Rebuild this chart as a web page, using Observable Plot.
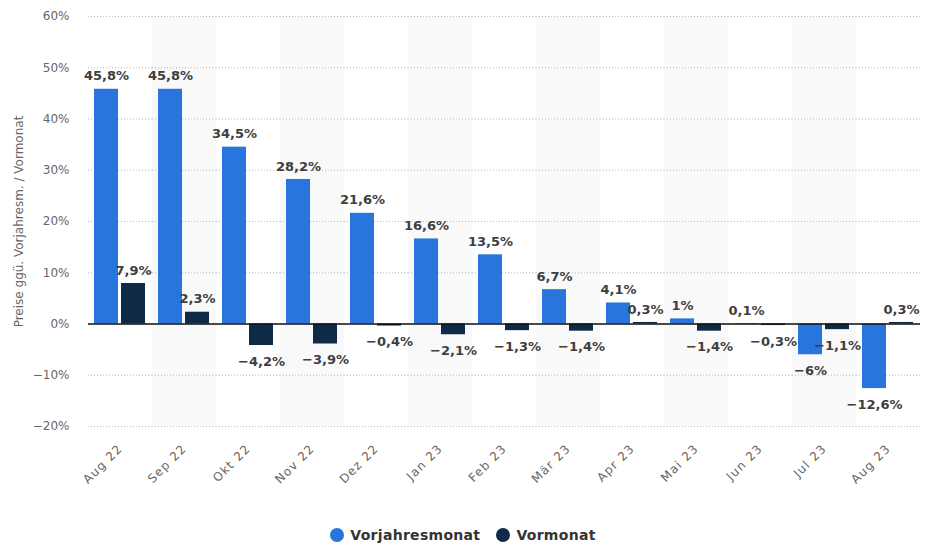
<!DOCTYPE html>
<html>
<head>
<meta charset="utf-8">
<script src="https://cdn.jsdelivr.net/npm/d3@7"></script>
<script src="https://cdn.jsdelivr.net/npm/@observablehq/plot@0.6"></script>
<style>
  body { margin: 0; background: #fff; font-family: "DejaVu Sans", sans-serif; }
  #wrap { position: relative; width: 926px; height: 545px; }
  #legend { position: absolute; top: 527px; left: 0; width: 926px; display: flex; justify-content: center; gap: 16px; font-size: 14px; letter-spacing: 0.3px; font-weight: bold; color: #333; }
  #legend span.item { display: flex; align-items: center; gap: 6px; }
  #legend span.dot { width: 14px; height: 14px; border-radius: 50%; display: inline-block; }
</style>
</head>
<body>
<div id="wrap">
  <div id="chart"></div>
  <div id="legend"></div>
</div>
<script>
const months = ["Aug 22", "Sep 22", "Okt 22", "Nov 22", "Dez 22", "Jan 23", "Feb 23", "Mär 23", "Apr 23", "Mai 23", "Jun 23", "Jul 23", "Aug 23"];
const seriesNames = ["Vorjahresmonat", "Vormonat"];
const vorjahresmonat = [45.8, 45.8, 34.5, 28.2, 21.6, 16.6, 13.5, 6.7, 4.1, 1, 0.1, -6, -12.6];
const vormonat = [7.9, 2.3, -4.2, -3.9, -0.4, -2.1, -1.3, -1.4, 0.3, -1.4, -0.3, -1.1, 0.3];
const yTicks = [-20, -10, 0, 10, 20, 30, 40, 50, 60];
const colors = ["#2876dd", "#0f2a47"];

const data = months.flatMap((m, i) => [
  {month: m, series: seriesNames[0], value: vorjahresmonat[i]},
  {month: m, series: seriesNames[1], value: vormonat[i]}
]);
const shaded = months.filter((m, i) => i % 2 === 1);
const fmt = v => (v < 0 ? "\u2212" : "") + Math.abs(v).toLocaleString("de-DE", {maximumFractionDigits: 1}) + "%";

const chart = Plot.plot({
  width: 926,
  height: 505,
  marginTop: 16,
  marginBottom: 79,
  marginLeft: 87,
  marginRight: 5,
  style: {fontFamily: "'DejaVu Sans', sans-serif", background: "#fff"},
  fx: {domain: months, padding: 0, axis: null},
  x: {domain: seriesNames, paddingInner: 0.11, paddingOuter: 0.24, axis: null},
  y: {domain: [-20, 60], axis: null},
  color: {domain: seriesNames, range: colors},
  marks: [
    Plot.barY(shaded, {fx: d => d, y1: () => -20, y2: () => 60, fill: "#f9f9f9"}),
    Plot.gridY(yTicks, {stroke: "#bbb", strokeOpacity: 1, strokeDasharray: "1,2"}),
    Plot.axisY(yTicks, {
      anchor: "left",
      tickSize: 0, tickPadding: 19, fontSize: 12, color: "#666",
      tickFormat: d => (d < 0 ? "\u2212" : "") + Math.abs(d) + "%",
      label: "Preise ggü. Vorjahresm. / Vormonat", labelAnchor: "center", labelArrow: "none", labelOffset: 74
    }),
    Plot.axisFx({anchor: "bottom", tickRotate: -45, tickSize: 0, tickPadding: 20, fontSize: 12, color: "#666", label: null}),
    Plot.barY(data, {fx: "month", x: "series", y: "value", fill: "series"}),
    Plot.ruleY([0], {stroke: "#111", strokeWidth: 1.5}),
    Plot.text(data.filter(d => d.value >= 0), {fx: "month", x: "series", y: "value", text: d => fmt(d.value), dy: -13, fontWeight: "bold", fontSize: 13, fill: "#3e3e3e"}),
    Plot.text(data.filter(d => d.value < 0), {fx: "month", x: "series", y: "value", text: d => fmt(d.value), dy: 16, fontWeight: "bold", fontSize: 13, fill: "#3e3e3e"})
  ]
});
document.getElementById("chart").appendChild(chart);
d3.select(chart).selectAll("g[aria-label='fx-axis tick label'] text").style("letter-spacing", "1.2px");

const legend = document.getElementById("legend");
seriesNames.forEach((s, i) => {
  const item = document.createElement("span");
  item.className = "item";
  const dot = document.createElement("span");
  dot.className = "dot";
  dot.style.background = colors[i];
  item.appendChild(dot);
  item.appendChild(document.createTextNode(s));
  legend.appendChild(item);
});
</script>
</body>
</html>
